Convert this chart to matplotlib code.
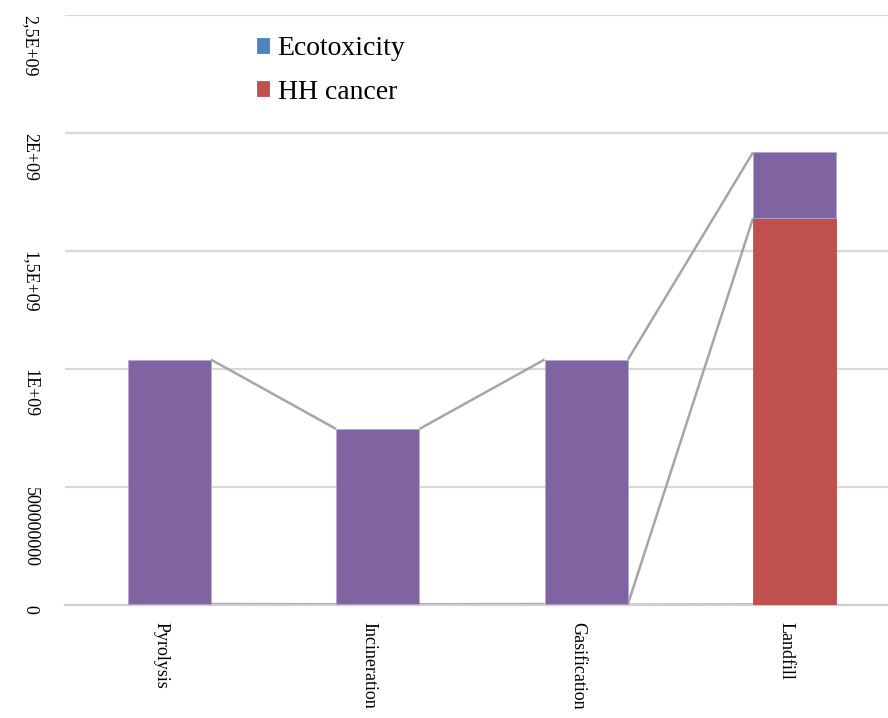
import numpy as np
import matplotlib.pyplot as plt

plt.rcParams['font.family'] = ['Liberation Serif', 'DejaVu Serif']

categories = ['Pyrolysis', 'Incineration', 'Gasification', 'Landfill']
ecotox = [1.0e6, 1.0e6, 1.0e6, 2.0e6]
hh_cancer = [3.0e6, 2.0e6, 3.0e6, 1.637e9]
other = [1.036e9, 0.743e9, 1.036e9, 0.279e9]
ytick_vals = [0, 5e8, 1e9, 1.5e9, 2e9, 2.5e9]
ytick_labels = ['0', '500000000', '1E+09', '1,5E+09', '2E+09', '2,5E+09']

colors = ['#4F81BD', '#C0504D', '#8064A2']
line_col = '#A6A6A6'

fig = plt.figure(figsize=(8.88, 7.18), dpi=100)
ax = fig.add_axes([65 / 888, 113 / 718, 834 / 888, 590 / 718])

x = np.arange(len(categories))
w = 0.4
series = [ecotox, hh_cancer, other]
names = ['Ecotoxicity', 'HH cancer', '_other']
bottom = np.zeros(len(categories))
tops = []
for vals, c, n in zip(series, colors, names):
    vals = np.array(vals)
    ax.bar(x, vals, w, bottom=bottom, color=c, label=n, zorder=3,
           edgecolor='#B4A7D6' if n == '_other' else c, linewidth=0.6)
    bottom = bottom + vals
    tops.append(bottom.copy())

# series lines between stacked bars
for lvl in tops:
    for i in range(len(categories) - 1):
        ax.plot([x[i] + w / 2, x[i + 1] - w / 2], [lvl[i], lvl[i + 1]],
                color=line_col, lw=1.8, zorder=2, solid_capstyle='butt')

ax.set_xlim(-0.5, len(categories) - 0.5)
ax.set_ylim(0, 2.5e9)
ax.set_yticks(ytick_vals)
ax.set_yticklabels(ytick_labels, rotation=-90, va='top', ha='right', fontsize=13)
ax.set_xticks(x)
ax.set_xticklabels(categories, rotation=-90, va='top', ha='right', fontsize=13)
ax.tick_params(axis='y', length=0, pad=19)
ax.tick_params(axis='x', length=0, pad=12)

ax.grid(axis='y', color='#D9D9D9', lw=1.6, zorder=0)
ax.set_axisbelow(True)
for s in ['top', 'right', 'left']:
    ax.spines[s].set_visible(False)
ax.spines['bottom'].set_color('#D0D0D0')
ax.spines['bottom'].set_linewidth(1.6)

leg = ax.legend(loc='upper left', bbox_to_anchor=(0.2, 1.006), frameon=False,
                fontsize=20, handlelength=0.45, handleheight=0.45,
                handletextpad=0.3, labelspacing=0.65)

fig.savefig('out.png', dpi=100)
